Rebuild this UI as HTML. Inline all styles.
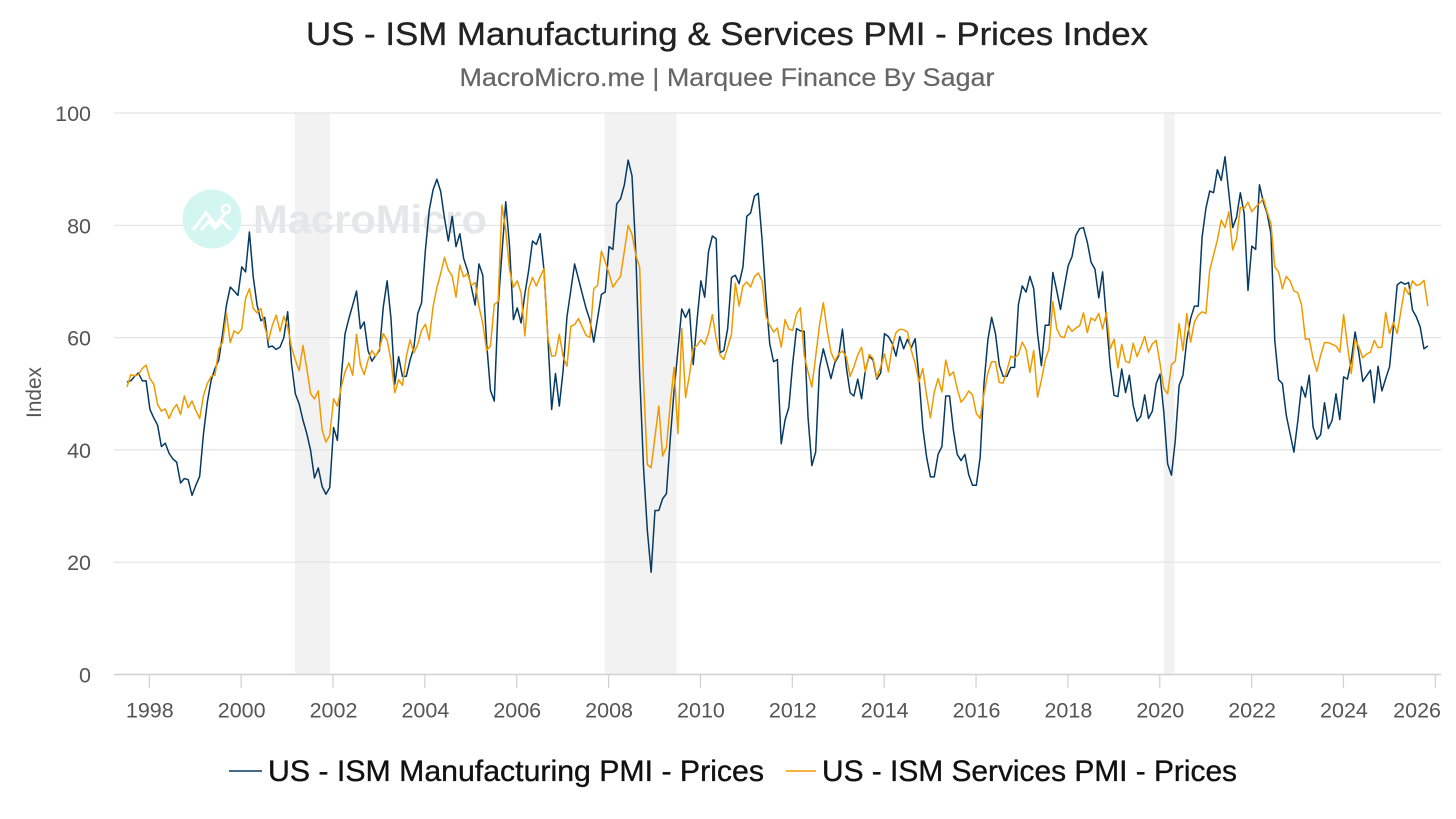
<!DOCTYPE html>
<html lang="en">
<head>
<meta charset="utf-8">
<title>US - ISM Manufacturing &amp; Services PMI - Prices Index</title>
<style>
html,body{margin:0;padding:0;background:#fff;width:1456px;height:819px;overflow:hidden}
svg{display:block}
text{font-family:"Liberation Sans",sans-serif}
</style>
</head>
<body>
<svg id="chart" xmlns="http://www.w3.org/2000/svg" width="1456" height="819" viewBox="0 0 1456 819">
  <text x="727" y="45" text-anchor="middle" font-size="32" fill="#222" stroke="#222" stroke-width="0.35" textLength="842" lengthAdjust="spacingAndGlyphs">US - ISM Manufacturing &amp; Services PMI - Prices Index</text>
  <text x="727" y="86" text-anchor="middle" font-size="25" fill="#666" stroke="#666" stroke-width="0.2" textLength="535" lengthAdjust="spacingAndGlyphs">MacroMicro.me | Marquee Finance By Sagar</text>
  <g id="bands"></g>
  <g id="grid"></g>
  <g>
    <circle cx="212" cy="219" r="29.5" fill="#d3f7f0"></circle>
    <polyline points="193,230 206,213 216,225 226,212" fill="none" stroke="#fff" stroke-width="3"></polyline>
    <polyline points="201,230 209,221 215,228 222,221 231,230" fill="none" stroke="#fff" stroke-width="3"></polyline>
    <circle cx="226" cy="209" r="4" fill="none" stroke="#fff" stroke-width="2.5"></circle>
    <text x="253" y="233" font-size="40" font-weight="bold" fill="#e4e6e8" textLength="234" lengthAdjust="spacingAndGlyphs">MacroMicro</text>
  </g>
  <g id="xaxis"></g>
  <g id="yaxis"></g>
  <text transform="translate(41,392.5) rotate(-90)" text-anchor="middle" font-size="20.8" fill="#555">Index</text>
  <g id="series"></g>
  <g>
    <g>
      <line x1="229" y1="771" x2="262" y2="771" stroke="#063a63" stroke-width="1.6"></line>
      <text x="268" y="781" font-size="30" fill="#111" stroke="#111" stroke-width="0.35" textLength="496" lengthAdjust="spacingAndGlyphs">US - ISM Manufacturing PMI - Prices</text>
    </g>
    <g>
      <line x1="786" y1="771" x2="816" y2="771" stroke="#f09a00" stroke-width="1.6"></line>
      <text x="822" y="781" font-size="30" fill="#111" stroke="#111" stroke-width="0.35" textLength="415" lengthAdjust="spacingAndGlyphs">US - ISM Services PMI - Prices</text>
    </g>
  </g>
</svg>
<script>
const manufacturing = [
52.1,52.3,53.1,53.7,52.3,52.3,47.2,45.7,44.4,40.6,41.2,39.4,38.4,37.8,34.1,34.9,34.7,31.9,33.7,35.3,
42.9,48.5,52.4,54.5,56,60.7,65.8,69,68.3,67.5,72.6,71.7,78.8,70.8,65.8,63,63.6,58.3,58.5,57.9,
58.3,60,64.6,55.4,50,48.2,45.3,42.9,39.9,35,36.8,33.5,32.1,33.3,44,41.7,53,60.7,63.4,65.8,
68.3,61.6,62.8,57.7,55.8,56.8,57.7,65.5,70.1,63.4,51.7,56.6,53.1,53.1,56,58.3,64.3,66.2,75.6,82.7,
86.3,88.2,86,81.2,77.2,81.6,76.2,78.5,74.1,72,69,65.8,73.1,71.1,59,50.6,48.7,65.5,75,84.2,
76.2,63.2,65.3,62.6,67.8,72,77.2,76.6,78.5,72,60.1,47.2,53.6,47.8,54.2,63.7,68.4,73.1,70.5,67.8,
65.2,63.1,59.2,63.4,67.7,68.1,76.2,75.7,83.8,84.7,87.2,91.6,88.8,75,53.6,37,25.7,18.2,29.2,29.2,
31.3,32.2,42,50.6,57.7,65.1,63.6,65.1,55.2,63.1,70.1,67.2,75.3,78.1,77.6,57.3,57.7,61.6,70.7,71.1,
69.6,72.6,81.6,82.2,85.2,85.7,77.4,67.2,58.9,55.7,56.1,41.1,45.3,47.6,55.4,61.6,61.2,61.1,45.9,37.2,
39.6,54.5,58,55.4,52.7,55.5,56.7,61.5,54.8,50.2,49.6,52.6,49.1,54.2,56.7,56,52.6,53.7,60.7,60.2,
59,56.7,60.2,58,59.7,58.2,59.8,53,44,38.7,35.2,35.2,39.2,40.6,49.6,49.6,43.5,39.2,38.1,39.2,
35.6,33.7,33.7,38.7,51.8,59.5,63.6,60.7,55.1,53.1,53.1,54.7,54.7,65.9,69.2,68.1,70.9,68.7,60.7,55,
62.2,62.2,71.6,68.4,65,69,72.8,74.4,78.2,79.4,79.6,77,73.4,72.2,67.1,71.7,63.1,54.8,49.7,49.5,
54.4,50.2,53.3,47.9,45.1,46,49.8,45.6,46.9,51.8,53.5,46.7,37.5,35.5,41.7,51.5,53.3,59.5,63.4,65.6,
65.6,77.9,83,86.1,85.8,89.9,88,92.2,85.7,79.6,81.4,85.8,82.1,68.4,76.3,75.7,87.2,84.2,82.1,78.5,
59.5,52.5,51.8,46.2,42.9,39.6,45,51.3,49.4,53.3,44.1,41.9,42.7,48.4,43.8,45.3,50,45.4,53,52.6,
56,61,57.1,52.2,53.2,54.2,48.4,54.9,50.5,52.7,54.8,61.9,69.4,69.9,69.5,69.8,64.9,63.7,61.9,58,58.5
];
const services = [
51.2,53.4,53.2,53.4,54.5,55.1,52.7,51.7,48.1,46.9,47.3,45.6,47.2,48.1,46.3,49.6,47.5,48.7,47,45.6,
49.7,51.8,53.1,53.3,58,59.2,64.3,59.1,61.2,60.7,61.5,67,68.7,65.2,64.4,65.2,61.9,59.5,62.2,64,
61.1,63.8,61.9,58.3,56,54.1,58.6,54.5,50,49.1,50.5,43.6,41.4,42.6,49.1,47.8,51.2,53.9,55.5,53.3,
60.6,55.2,53.4,56,57.7,56.7,58,60.7,59.5,56,50.2,52.5,51.5,56.6,59.6,57.3,58.8,61.3,62.4,59.6,
65.5,68.9,71.4,74.3,72,71,67.2,72.9,70.8,71.4,69.3,69.8,65.5,62.5,57.7,58.5,65.9,66.4,83.6,79.1,
72,69,70.1,68,60.3,68.7,70.7,69.2,70.8,72.3,60.1,56.7,56.8,60.6,56.6,54.9,62,62.3,63.4,61.9,
60.4,60,68.7,69.3,75.4,73.5,71.4,69,70,70.9,75.4,80,78.4,74.7,72.5,52.4,37.4,36.8,42.3,47.8,
38.9,40.5,48.2,54.7,42.9,61.6,49.3,53.3,58.2,58.6,59.6,58.8,60.8,64.1,59.8,56.9,56.1,58.3,60.6,69.7,
65.6,69.2,69.9,69,70.9,71.5,70.1,63.8,62.2,61,61.7,58.3,63.2,61.5,61.3,64.2,65.3,56.9,53.9,51.2,
56.6,62.2,66.2,61.3,57.4,55.8,57.1,57.6,56.6,53.1,54.8,56.9,58.3,53.9,57,56.3,52.9,54.8,57.1,53.9,
58.3,60.9,61.5,61.4,61,57.7,55.4,52.1,54.5,49.7,45.7,50.3,52.7,50.3,56,53.2,53.9,50.9,48.5,49.3,
50.5,49.8,46.5,45.6,50,53.6,55.7,55.7,52,51.9,54.2,56.7,56.4,57,59.2,57.9,53.8,57.7,49.4,52.4,
56,58,66.4,61.6,60.2,60,62.1,61.1,61.7,62.1,64.4,60.9,63.5,63,64.3,61.5,64.5,58,59.7,54.6,
58.8,55.8,55.5,59,56.6,58.3,60.2,57.4,58.9,59.5,55.4,50.9,50,55.2,55.8,62.5,57.7,64.3,59.2,62.8,
64,64.6,64.3,72,74.7,77.4,80.9,79.6,82.4,75.6,77.6,83.2,83,84.1,82.4,83.3,83.9,84.8,82.4,80.3,
72.6,71.7,68.7,70.9,70.1,68.3,68,65.8,59.7,59.8,56.3,54,56.9,59.1,59.1,58.8,58.5,57.4,64.1,58.6,
53.6,59.7,58.3,56.4,57.1,57.4,59.5,58.2,58.3,64.5,60.7,62.7,60.7,64.9,68.9,67.7,70.1,69.3,69.5,70.2,65.6
];
const yearTicks = [1998,2000,2002,2004,2006,2008,2010,2012,2014,2016,2018,2020,2022,2024,2026];
const valueTicks = [0,20,40,60,80,100];
const recessionStarts = [2001.17,2007.915,2020.09];
const recessionEnds = [2001.93,2009.48,2020.32];
const seriesStartYear = 1997.514;
const monthStep = 0.0833;

const NS = 'http://www.w3.org/2000/svg';
function xScale(year){ return 149.3 + (year - 1998) * 45.93; }
function yScale(v){ return 674.5 - v * 5.615; }
function add(parent, tag, attrs, text){
  const el = document.createElementNS(NS, tag);
  for (const k in attrs) el.setAttribute(k, attrs[k]);
  if (text !== undefined) el.textContent = text;
  parent.appendChild(el);
  return el;
}

const bandsG = document.getElementById('bands');
recessionStarts.forEach(function(s, i){
  const r = add(bandsG, 'rect', {x: xScale(s), y: yScale(100), width: xScale(recessionEnds[i]) - xScale(s), height: yScale(0) - yScale(100), fill: '#f2f2f2'});
  
  
});

const gridG = document.getElementById('grid');
const yG = document.getElementById('yaxis');
valueTicks.forEach(function(v){
  const l = add(gridG, 'line', {x1: 114, x2: 1441, y1: yScale(v), y2: yScale(v), stroke: v === 0 ? '#d0d0d0' : '#e3e3e3', 'stroke-width': v === 0 ? 1.5 : 1.2});
  
  
  const t = add(yG, 'text', {x: 91, y: yScale(v) + 8, 'text-anchor': 'end', 'font-size': 21.5, fill: '#555'}, String(v));
  
  
});

const xG = document.getElementById('xaxis');
yearTicks.forEach(function(y){
  const x = xScale(y);
  const m = add(xG, 'line', {x1: x, x2: x, y1: 675, y2: 688, stroke: '#d0d0d0', 'stroke-width': 1.2});
  
  
  const attrs = y === yearTicks[yearTicks.length - 1]
    ? {x: 1441, y: 717.5, 'text-anchor': 'end', 'font-size': 21.5, fill: '#555'}
    : {x: x + 0.5, y: 717.5, 'text-anchor': 'middle', 'font-size': 21.5, fill: '#555'};
  const t = add(xG, 'text', attrs, String(y));
  
  
});

function pathFor(values){
  return values.map(function(v, i){
    return (i ? 'L' : 'M') + xScale(seriesStartYear + i * monthStep).toFixed(2) + ' ' + yScale(v).toFixed(2);
  }).join('');
}
const seriesG = document.getElementById('series');
const mLine = add(seriesG, 'path', {d: pathFor(manufacturing), fill: 'none', stroke: '#063a63', 'stroke-width': 1.5, 'stroke-linejoin': 'round'});


const sLine = add(seriesG, 'path', {d: pathFor(services), fill: 'none', stroke: '#f09a00', 'stroke-width': 1.5, 'stroke-linejoin': 'round'});


</script>
</body>
</html>
